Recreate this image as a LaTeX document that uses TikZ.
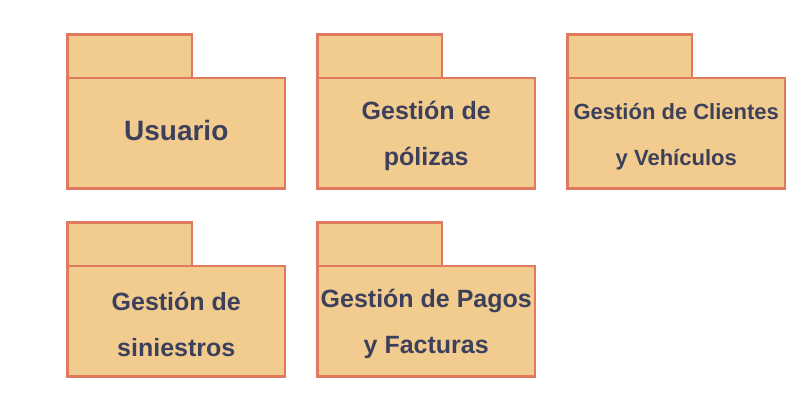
\documentclass[tikz,border=0pt]{standalone}
\usepackage{fontspec}
\setmainfont{Liberation Sans}
\definecolor{pkgfill}{HTML}{F2CC8F}
\definecolor{pkgline}{HTML}{E07A5F}
\definecolor{pkgtext}{HTML}{3D405B}
\tikzset{
  pkgtab/.style={draw=pkgline,fill=pkgfill,line width=2.6pt,outer sep=0pt,
    minimum width=124.5pt,minimum height=43.5pt,inner sep=0pt},
  pkgbody/.style={draw=pkgline,fill=pkgfill,line width=2.6pt,outer sep=0pt,
    minimum width=217.5pt,minimum height=110.5pt,inner sep=0pt},
  pkglabel/.style={align=center,text=pkgtext,inner sep=0pt}
}
\begin{document}
\begin{tikzpicture}[x=1pt,y=-1pt]
    \useasboundingbox (0,0) rectangle (802,400);
    %% packages
    \foreach \x/\y/\nm/\fs/\dy/\txt in {
        67.5/34.5/usuario/28/3/{Usuario},
        317.5/34.5/polizas/25/-3/{Gestión de\\pólizas},
        567.5/34.5/clientes/22/-3/{Gestión de Clientes\\y Vehículos},
        67.5/222.5/siniestros/25/-3/{Gestión de\\siniestros},
        317.5/222.5/pagos/25/-3/{Gestión de Pagos\\y Facturas}}
    {
        \node[pkgtab,anchor=north west] (\nm-tab) at (\x,\y) {};
        \node[pkgbody,anchor=north west] (\nm) at (\nm-tab.south west) {};
        \node[pkglabel,font=\bfseries\fontsize{\fs}{46}\selectfont]
            (\nm-label) at ([yshift=\dy pt]\nm.center) {\txt};
    }
\end{tikzpicture}
\end{document}
